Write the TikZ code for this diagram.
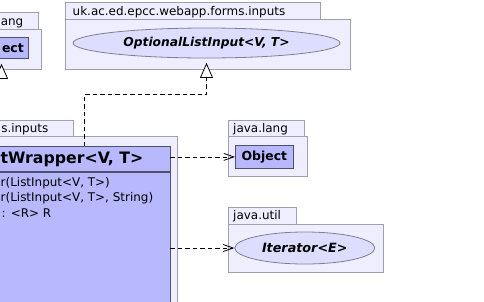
\documentclass[tikz,border=0pt]{standalone}
\usepackage{fontspec}
\setmainfont{DejaVu Sans}
\usetikzlibrary{arrows.meta,shapes.geometric}

\definecolor{pkgfill}{HTML}{EEEEFF}
\definecolor{pkgline}{HTML}{A0A0AC}
\definecolor{clsfill}{HTML}{B8B8FF}
\definecolor{clsline}{HTML}{50506A}
\definecolor{ifcfill}{HTML}{DDDDFF}
\definecolor{ifcline}{HTML}{80808C}

\tikzset{
  pkgtab/.style={draw=pkgline, fill=pkgfill, line width=0.8bp, anchor=north west, inner sep=0pt},
  pkgbody/.style={draw=pkgline, fill=pkgfill, line width=0.8bp, anchor=north west, inner sep=0pt},
  clsbox/.style={draw=clsline, fill=clsfill, line width=0.8bp, anchor=north west, inner sep=0pt},
  ifcshape/.style={ellipse, draw=ifcline, fill=ifcfill, line width=0.8bp, inner sep=0pt},
  lbl/.style={inner sep=0pt, font=\fontsize{12}{14}\selectfont},
  blbl/.style={inner sep=0pt, font=\fontsize{12.5}{14}\selectfont\bfseries},
  dep/.style={draw=black, line width=0.8bp, dash pattern=on 4.5bp off 3bp},
  usetip/.style={-{Straight Barb[length=10bp,width=7bp]}},
  inhtip/.style={-{Triangle[length=15bp,width=13bp,fill=white]}},
}

\begin{document}
\begin{tikzpicture}[x=1bp,y=-1bp]
\useasboundingbox (0,0) rectangle (484,301);

% package java.lang (upper left)
\node[pkgtab, minimum width=98bp, minimum height=16.5bp] (langtabA) at (-60,12) {};
\node[pkgbody, minimum width=101bp, minimum height=40bp] (langA) at (-60,28.5) {};
\node[clsbox, minimum width=68bp, minimum height=21bp] (objA) at (-40,37) {};
\node[lbl, anchor=base east] (langlblA) at (23.5,25) {ang};
\node[blbl, anchor=base east] (objlblA) at (24,52) {ect};

% package uk.ac.ed.epcc.webapp.forms.inputs (top)
\node[pkgtab, minimum width=255bp, minimum height=17bp] (formstab) at (65,2) {};
\node[pkgbody, minimum width=285bp, minimum height=50bp] (forms) at (65,19) {};
\node[lbl, anchor=base west] (formslbl) at (72.5,15) {uk.ac.ed.epcc.webapp.forms.inputs};
\node[ifcshape, minimum width=267bp, minimum height=30bp] (oli) at (206.5,43)
  {\fontsize{12.3}{14}\selectfont\bfseries\itshape OptionalListInput<V, T>};

% package ...forms.inputs (main)
\node[pkgtab, minimum width=133bp, minimum height=16.5bp] (maintab) at (-60,119.5) {};
\node[pkgbody, minimum width=237bp, minimum height=200bp] (mainpkg) at (-60,136) {};
\node[lbl, anchor=base east] (mainlbl) at (48.5,132) {s.inputs};
\node[clsbox, minimum width=229.5bp, minimum height=200bp] (cls) at (-60,146) {};
\draw[clsline, line width=2bp] (cls.west |- 0,172) -- (cls.east |- 0,172);
\node[inner sep=0pt, font=\fontsize{15.8}{18}\selectfont\bfseries, anchor=base east] (clstitle) at (143.5,163.5) {tWrapper<V, T>};
\node[lbl, anchor=base west] (m1) at (0.5,186) {r(ListInput<V, T>)};
\node[lbl, anchor=base west] (m2) at (0.5,201.5) {r(ListInput<V, T>, String)};
\node[lbl, anchor=base west] (m3) at (1.5,217) {: <R> R};

% package java.lang
\node[pkgtab, minimum width=76bp, minimum height=16bp] (langtab) at (228,120) {};
\node[pkgbody, minimum width=79bp, minimum height=40bp] (lang) at (228,136) {};
\node[lbl, anchor=base west] (langlbl) at (233,132) {java.lang};
\node[clsbox, minimum width=58bp, minimum height=23bp] (obj) at (235,145) {};
\node[blbl] (objlbl) at (obj.center) {Object};

% package java.util
\node[pkgtab, minimum width=68bp, minimum height=17bp] (utiltab) at (228,207) {};
\node[pkgbody, minimum width=155bp, minimum height=48bp] (util) at (228,224) {};
\node[lbl, anchor=base west] (utillbl) at (233,219.5) {java.util};
\node[ifcshape, minimum width=140bp, minimum height=32bp] (iter) at (304.8,248)
  {\fontsize{12.8}{14}\selectfont\bfseries\itshape Iterator<E>};

% connectors
\coordinate (inhA) at (84,146);
\coordinate (inhB) at (1.5,78);
\draw[dep, inhtip, shorten >=4.5bp] (inhA) -- (inhA |- 0,94.5) -| (oli.south);
\draw[dep, inhtip, shorten >=5bp] (inhB) -- (inhB |- objA.south);
\draw[dep, usetip] (cls.east |- obj.west) -- (obj.west);
\draw[dep, usetip] (cls.east |- iter.west) -- (iter.west);
\end{tikzpicture}
\end{document}
